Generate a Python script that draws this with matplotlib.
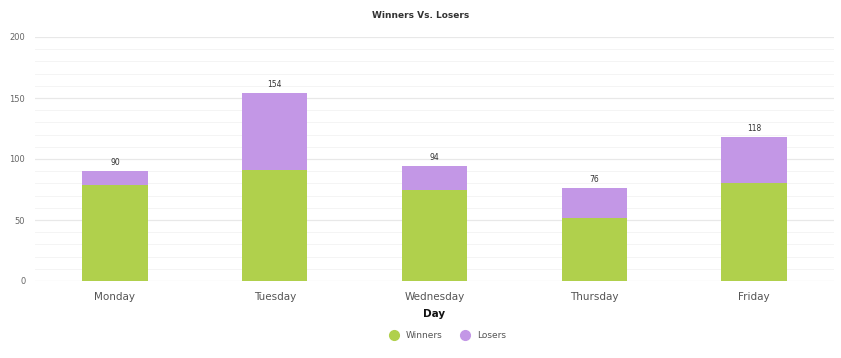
import numpy as np
import matplotlib.pyplot as plt
from matplotlib.lines import Line2D

days = ["Monday", "Tuesday", "Wednesday", "Thursday", "Friday"]
winners = [79, 91, 75, 52, 80]
losers = [11, 63, 19, 24, 38]
totals = [90, 154, 94, 76, 118]

green = "#b0d04c"
purple = "#c397e6"

plt.rcParams["font.family"] = ["DejaVu Sans"]
fig = plt.figure(figsize=(8.41, 3.58), dpi=100)
ax = fig.add_axes([35 / 841, 1 - 281 / 358, 799 / 841, 244 / 358])

x = np.arange(len(days))
ax.bar(x, winners, width=0.41, color=green, zorder=2)
ax.bar(x, losers, width=0.41, bottom=winners, color=purple, zorder=2)

for xi, t in zip(x, totals):
    ax.text(xi, t + 3.5, str(t), ha="center", va="bottom", fontsize=5.5, color="#333333")

ax.set_xlim(-0.5, len(days) - 0.5)
ax.set_ylim(0, 200)
ax.set_yticks([0, 50, 100, 150, 200])
ax.set_yticks(np.arange(0, 201, 10), minor=True)
ax.grid(axis="y", which="major", color="#e8e8e8", linewidth=0.9, zorder=0)
ax.grid(axis="y", which="minor", color="#f4f4f4", linewidth=0.7, zorder=0)
ax.tick_params(axis="y", which="both", length=0, labelsize=6, labelcolor="#666666", pad=7)
ax.tick_params(axis="x", length=0, labelsize=7.5, labelcolor="#555555", pad=8)
ax.set_xticks(x)
ax.set_xticklabels(days)
for s in ax.spines.values():
    s.set_visible(False)

ax.set_xlabel("Day", fontsize=7.5, fontweight="bold", color="#111111", labelpad=5)
fig.text(0.5, 1 - 15 / 358, "Winners Vs. Losers", ha="center", va="center",
         fontsize=6.5, fontweight="bold", color="#333333")

handles = [
    Line2D([], [], marker="o", linestyle="", markersize=7, color=green, label="Winners"),
    Line2D([], [], marker="o", linestyle="", markersize=7, color=purple, label="Losers"),
]
fig.legend(handles=handles, loc="center", bbox_to_anchor=(0.53, 1 - 336 / 358), ncol=2,
           frameon=False, fontsize=6.5, labelcolor="#555555", handletextpad=0.3,
           columnspacing=1.5)

fig.savefig("out.png", dpi=100)
